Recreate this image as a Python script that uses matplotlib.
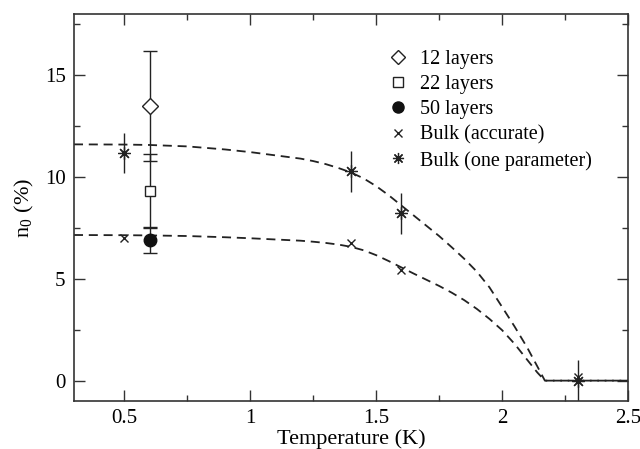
import numpy as np
import matplotlib
matplotlib.use('Agg')
import matplotlib.pyplot as plt
from matplotlib.lines import Line2D
from matplotlib.ticker import MultipleLocator

plt.rcParams['font.family'] = ['Liberation Serif', 'DejaVu Serif']
plt.rcParams['mathtext.fontset'] = 'stix'

# film data (T in K, n0 in %, error)
T_films = 0.6
n12, e12 = 13.5, 2.7
n22, e22 = 9.33, 1.78
n50, e50 = 6.89, 0.6

# bulk data
T_bulk_acc = [0.5, 1.4, 1.6, 2.3]
n_bulk_acc = [7.02, 6.77, 5.43, 0.2]
T_bulk_one = [0.5, 1.4, 1.6, 2.3]
n_bulk_one = [11.17, 10.27, 8.22, 0.0]
e_bulk_one = [1.0, 1.0, 1.0, 1.0]

# dashed fit curves
T_up = [0.3, 0.5, 0.6, 0.75, 0.9, 1.0, 1.1, 1.2, 1.25, 1.3, 1.35, 1.4, 1.45, 1.5, 1.55, 1.6,
        1.65, 1.7, 1.75, 1.8, 1.85, 1.9, 1.95, 2.0, 2.05, 2.1, 2.14, 2.17, 2.5]
n_up = [11.6, 11.59, 11.57, 11.5, 11.35, 11.22, 11.06, 10.9, 10.78, 10.63, 10.44, 10.22,
        9.93, 9.55, 9.1, 8.6, 8.1, 7.6, 7.1, 6.55, 5.98, 5.35, 4.58, 3.62, 2.65, 1.62, 0.7,
        0.0, 0.0]
T_lo = [0.3, 0.5, 0.6, 0.75, 0.9, 1.0, 1.1, 1.2, 1.25, 1.3, 1.35, 1.4, 1.45, 1.5, 1.55, 1.6,
        1.65, 1.7, 1.75, 1.8, 1.85, 1.9, 1.95, 2.0, 2.05, 2.1, 2.14, 2.17, 2.5]
n_lo = [7.15, 7.14, 7.13, 7.1, 7.04, 6.99, 6.93, 6.87, 6.82, 6.76, 6.68, 6.57, 6.4, 6.16,
        5.87, 5.56, 5.25, 4.95, 4.65, 4.32, 3.95, 3.52, 3.03, 2.48, 1.8, 1.02, 0.4, 0.0, 0.0]

fig = plt.figure(figsize=(6.4, 4.49), dpi=100)
ax = fig.add_axes([0.1156, 0.1069, 0.8656, 0.8619])

dash = (0, (5, 3.2))
ax.plot(T_up, n_up, color='#222222', lw=1.3, ls=dash)
ax.plot(T_lo, n_lo, color='#222222', lw=1.3, ls=dash)

ax.errorbar(T_films, n12, yerr=e12, fmt='D', ms=8, mfc='white', mec='#222222', mew=1.0,
            ecolor='#222222', elinewidth=1.0, capsize=5, capthick=1.0)
ax.errorbar(T_films, n22, yerr=e22, fmt='s', ms=7.5, mfc='white', mec='#222222', mew=1.0,
            ecolor='#222222', elinewidth=1.0, capsize=5, capthick=1.0)
ax.errorbar(T_films, n50, yerr=e50, fmt='o', ms=9, mfc='#111111', mec='#111111',
            ecolor='#222222', elinewidth=1.0, capsize=5, capthick=1.0)
ax.plot(T_bulk_acc, n_bulk_acc, 'x', ms=6, mew=1.0, color='#222222', ls='none')
ax.errorbar(T_bulk_one, n_bulk_one, yerr=e_bulk_one, fmt='none', ecolor='#222222',
            elinewidth=1.0, capsize=0)
ax.plot(T_bulk_one, n_bulk_one, ls='none', marker=(8, 2, 0), ms=9, mew=0.9, color='#222222')

ax.set_xlim(0.3, 2.5)
ax.set_ylim(-1, 18)
ax.xaxis.set_major_locator(MultipleLocator(0.5))
ax.xaxis.set_minor_locator(MultipleLocator(0.25))
ax.yaxis.set_major_locator(MultipleLocator(5))
ax.yaxis.set_minor_locator(MultipleLocator(2.5))
ax.set_xticks([0.5, 1, 1.5, 2, 2.5])
ax.set_xticklabels(['0.5', '1', '1.5', '2', '2.5'])
ax.tick_params(which='both', direction='in', top=True, right=True, labelsize=15,
               color='#333333', width=1.0)
ax.tick_params(which='major', length=8, pad=6)
ax.tick_params(which='minor', length=4)
for s in ax.spines.values():
    s.set_linewidth(1.2)
    s.set_color('#333333')

ax.set_xlabel('Temperature (K)', fontsize=16, labelpad=1)
ax.set_ylabel(r'n$_{\mathregular{0}}$ (%)', fontsize=16, labelpad=6)

handles = [
    Line2D([], [], ls='none', marker='D', ms=7, mfc='white', mec='#222222', mew=1.0),
    Line2D([], [], ls='none', marker='s', ms=7, mfc='white', mec='#222222', mew=1.0),
    Line2D([], [], ls='none', marker='o', ms=8, mfc='#111111', mec='#111111'),
    Line2D([], [], ls='none', marker='x', ms=6, mew=1.0, color='#222222'),
    Line2D([], [], ls='none', marker=(8, 2, 0), ms=8, mew=0.9, color='#222222'),
]
labels = ['12 layers', '22 layers', '50 layers', 'Bulk (accurate)', 'Bulk (one parameter)']
ax.legend(handles, labels, loc='upper left', bbox_to_anchor=(0.545, 0.938), frameon=False,
          fontsize=14.5, handletextpad=0.6, labelspacing=0.3, handlelength=1.0,
          borderaxespad=0.2)

fig.savefig('out.png', dpi=100)
